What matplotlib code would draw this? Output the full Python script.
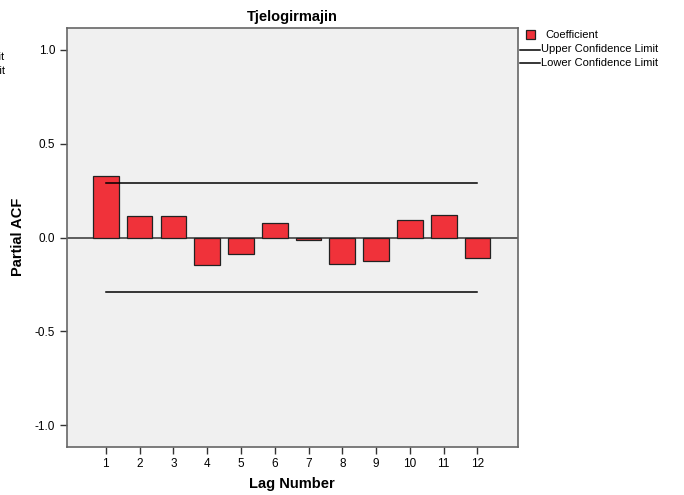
#!/usr/bin/env python3
# -*- coding: utf-8 -*-
"""
Partial ACF chart for Tjelogirmajin (SPSS style)
"""

import matplotlib
matplotlib.use('Agg')
import matplotlib.pyplot as plt
from matplotlib.patches import Rectangle
from matplotlib.lines import Line2D

plt.rcParams['font.family'] = ['Liberation Sans', 'DejaVu Sans']

# Data
lags = [1, 2, 3, 4, 5, 6, 7, 8, 9, 10, 11, 12]
pacf = [0.330, 0.112, 0.117, -0.145, -0.087, 0.076, -0.011, -0.142, -0.126, 0.094, 0.122, -0.110]
upper_limit = [0.289] * 12
lower_limit = [-0.289] * 12
yticks = [-1.0, -0.5, 0.0, 0.5, 1.0]
legend_names = ['Coefficient', 'Upper Confidence Limit', 'Lower Confidence Limit']

W, H = 684, 495
bar_color = '#f0323a'

fig = plt.figure(figsize=(W / 100, H / 100), dpi=100)
ax = fig.add_axes([67 / W, 1 - 447 / H, 451 / W, 419 / H])
ax.set_facecolor('#f0f0f0')

ax.axhline(0, color='#444444', lw=1.2, zorder=1)
ax.bar(lags, pacf, width=0.76, color=bar_color, edgecolor='#222222', lw=0.9, zorder=2)
ax.plot(lags, upper_limit, color='black', lw=1.1, zorder=3)
ax.plot(lags, lower_limit, color='black', lw=1.1, zorder=3)

ax.set_xlim(-0.15, 13.2)
ax.set_ylim(-1.117, 1.117)
ax.set_xticks(lags)
ax.set_yticks(yticks)
ax.set_yticklabels(['%.1f' % v for v in yticks])
ax.tick_params(axis='both', labelsize=8.5, length=5, width=1, color='#333333')
ax.tick_params(axis='x', pad=3)

for s in ax.spines.values():
    s.set_color('#666666')
    s.set_linewidth(1.2)

ax.set_title('Tjelogirmajin', fontsize=10.5, fontweight='bold', pad=5)

# axis titles placed in figure pixels, like the SPSS output
fig.text(292 / W, 1 - 484 / H, 'Lag Number', fontsize=10.5, fontweight='bold',
         ha='center', va='center')
fig.text(18 / W, 1 - 237 / H, 'Partial ACF', fontsize=10.5, fontweight='bold',
         ha='center', va='center', rotation=90)

# legend to the right of the plot (drawn by hand, small square swatch)
fig.patches.append(Rectangle((526 / W, 1 - 39 / H), 9 / W, 9 / H, transform=fig.transFigure,
                             facecolor=bar_color, edgecolor='#222222', lw=0.9))
for yy in (50, 63):
    fig.lines.append(Line2D([520 / W, 540 / W], [1 - yy / H] * 2, transform=fig.transFigure,
                            color='black', lw=1.1))
for name, xx, yy in zip(legend_names, (545, 541, 541), (35, 49, 63)):
    fig.text(xx / W, 1 - yy / H, name, fontsize=8, ha='left', va='center')

# remnants of a neighbouring legend cut off on the left edge
fig.text(0.006, 1 - 57 / H, 'Upper Confidence Limit', fontsize=8, ha='right', va='center')
fig.text(0.008, 1 - 71 / H, 'Lower Confidence Limit', fontsize=8, ha='right', va='center')

fig.savefig('out.png', dpi=100)
